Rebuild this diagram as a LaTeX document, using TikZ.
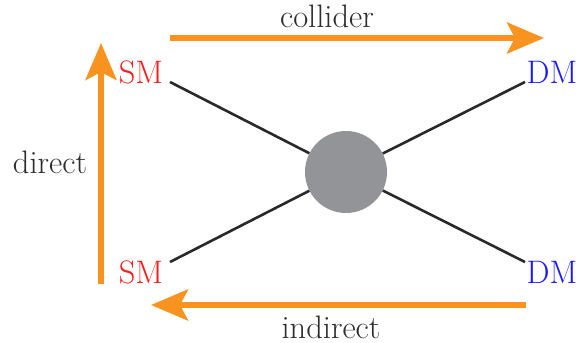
\documentclass[tikz,border=0pt]{standalone}
\usetikzlibrary{arrows.meta}
\definecolor{orng}{HTML}{F7931E}
\definecolor{blobgray}{HTML}{929497}
\definecolor{txtgray}{HTML}{2E2E2E}
\definecolor{smred}{HTML}{FF1A1A}
\definecolor{dmblue}{HTML}{1A1AFF}
\begin{document}
\begin{tikzpicture}[x=1pt,y=-1pt,
  lbl/.style={font=\fontsize{32.5}{38}\selectfont, inner sep=0pt},
  sm/.style={lbl, text=smred},
  dm/.style={lbl, text=dmblue},
  caption/.style={lbl, text=txtgray},
  prop/.style={draw=txtgray!90!black, line width=2.6pt},
  bigarrow/.style={draw=orng, line width=5.5pt, -{Stealth[length=37pt,width=31pt,inset=8pt,fill=orng]}}]
\useasboundingbox (0,0) rectangle (579,343);
% blob
\node[circle, fill=blobgray, minimum size=82pt, inner sep=0pt] (blob) at (346,172) {};
% labels
\node[sm] (smtop) at (141,72) {SM};
\node[sm] (smbot) at (141,272) {SM};
\node[dm] (dmtop) at (552,72) {DM};
\node[dm] (dmbot) at (552,272) {DM};
\node[caption] (collider) at (327,16) {collider};
\node[caption] (direct) at (50,162) {direct};
\node[caption] (indirect) at (331,327) {indirect};
% line ends
\coordinate (ul) at (170,82);
\coordinate (ur) at (525,82);
\coordinate (ll) at (170,262);
\coordinate (lr) at (525,262);
\draw[prop] (ul) -- (blob);
\draw[prop] (ur) -- (blob);
\draw[prop] (ll) -- (blob);
\draw[prop] (lr) -- (blob);
% orange arrows
\coordinate (cs) at (170,38);
\coordinate (ce) at (544,38);
\coordinate (ds) at (101,284);
\coordinate (de) at (101,43);
\coordinate (is) at (526,305);
\coordinate (ie) at (151,305);
\draw[bigarrow] (cs) -- (ce);
\draw[bigarrow] (ds) -- (de);
\draw[bigarrow] (is) -- (ie);
\end{tikzpicture}
\end{document}
